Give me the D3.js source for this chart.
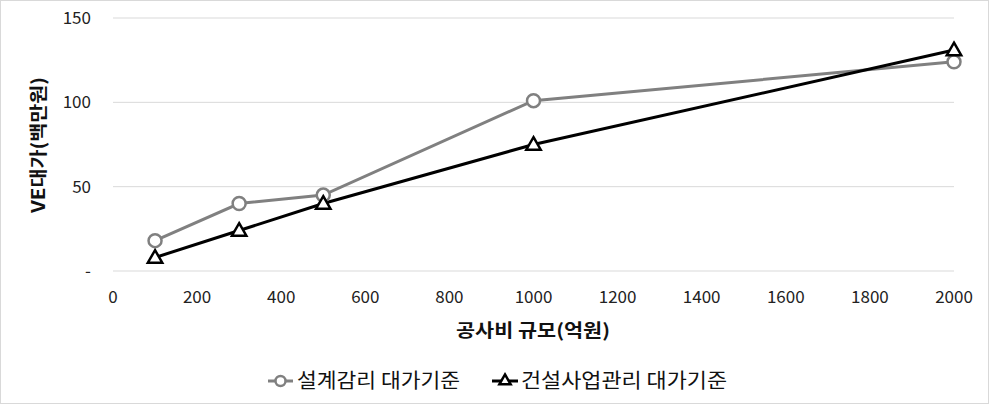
<!DOCTYPE html>
<html><head><meta charset="utf-8">
<script src="https://cdn.jsdelivr.net/npm/d3@7"></script>
<style>body{margin:0;background:#fff}svg{display:block}text{font-family:"Noto Sans CJK KR","Noto Sans",sans-serif}</style>
</head><body>
<svg id="c" width="989" height="404"></svg>
<script>
const xValues = [100, 300, 500, 1000, 2000];
const series1Name = "설계감리 대가기준";
const series1 = [18, 40, 45, 101, 124];
const series2Name = "건설사업관리 대가기준";
const series2 = [8, 24, 40, 75, 131];
const xTicks = [0,200,400,600,800,1000,1200,1400,1600,1800,2000];
const yTicks = [0,50,100,150];
const yTickLabels = ["-","50","100","150"];
const xTitle = "공사비 규모(억원)";
const yTitle = "VE대가(백만원)";

const svg = d3.select("#c");
svg.append("rect").attr("x",0.5).attr("y",0.5).attr("width",988).attr("height",403).attr("fill","#fff").attr("stroke","#d9d9d9");
const x = d3.scaleLinear().domain([0,2000]).range([113,954]);
const y = d3.scaleLinear().domain([0,150]).range([271,18]);

svg.append("g").selectAll("line").data(yTicks).join("line")
  .attr("x1",113).attr("x2",954).attr("y1",d=>y(d)).attr("y2",d=>y(d))
  .attr("stroke","#d9d9d9").attr("stroke-width",1);

svg.append("g").selectAll("text").data(yTicks).join("text")
  .attr("x",91).attr("y",d=>y(d)+6).attr("text-anchor","end")
  .attr("font-size",17).attr("fill","#222").text((d,i)=>yTickLabels[i]);

svg.append("g").selectAll("text").data(xTicks).join("text")
  .attr("x",d=>x(d)).attr("y",303).attr("text-anchor","middle")
  .attr("font-size",17).attr("fill","#222").text(d=>d);

svg.append("text").attr("x",456).attr("y",337)
  .attr("font-size",18).attr("font-weight","bold").attr("fill","#111")
  .attr("textLength",154).attr("lengthAdjust","spacingAndGlyphs").text(xTitle);
svg.append("text").attr("transform","translate(45,213) rotate(-90)")
  .attr("font-size",18).attr("font-weight","bold").attr("fill","#111")
  .attr("textLength",136).attr("lengthAdjust","spacingAndGlyphs").text(yTitle);

const line = d3.line().x(d=>x(d[0])).y(d=>y(d[1]));
const d1 = xValues.map((v,i)=>[v,series1[i]]);
const d2 = xValues.map((v,i)=>[v,series2[i]]);
const tri = d3.symbol().type(d3.symbolTriangle).size(90);

svg.append("path").datum(d1).attr("d",line).attr("fill","none").attr("stroke","#808080").attr("stroke-width",3);
svg.append("path").datum(d2).attr("d",line).attr("fill","none").attr("stroke","#000").attr("stroke-width",3);

svg.append("g").selectAll("circle").data(d1).join("circle")
  .attr("cx",d=>x(d[0])).attr("cy",d=>y(d[1])).attr("r",6.5)
  .attr("fill","#fff").attr("stroke","#808080").attr("stroke-width",2.5);
svg.append("g").selectAll("path").data(d2).join("path")
  .attr("transform",d=>`translate(${x(d[0])},${y(d[1])+1})`).attr("d",tri)
  .attr("fill","#fff").attr("stroke","#000").attr("stroke-width",2.5);

// legend
const lg = svg.append("g");
lg.append("line").attr("x1",268).attr("x2",293).attr("y1",381).attr("y2",381).attr("stroke","#808080").attr("stroke-width",3);
lg.append("circle").attr("cx",280.5).attr("cy",381).attr("r",5).attr("fill","#fff").attr("stroke","#808080").attr("stroke-width",2.5);
lg.append("text").attr("x",297).attr("y",388).attr("font-size",20).attr("fill","#111")
  .attr("textLength",163).attr("lengthAdjust","spacingAndGlyphs").text(series1Name);
lg.append("line").attr("x1",492).attr("x2",518).attr("y1",381).attr("y2",381).attr("stroke","#000").attr("stroke-width",3);
lg.append("path").attr("transform","translate(505,381)").attr("d",d3.symbol().type(d3.symbolTriangle).size(55)).attr("fill","#fff").attr("stroke","#000").attr("stroke-width",2.5);
lg.append("text").attr("x",521).attr("y",388).attr("font-size",20).attr("fill","#111")
  .attr("textLength",206).attr("lengthAdjust","spacingAndGlyphs").text(series2Name);
</script>
</body></html>
